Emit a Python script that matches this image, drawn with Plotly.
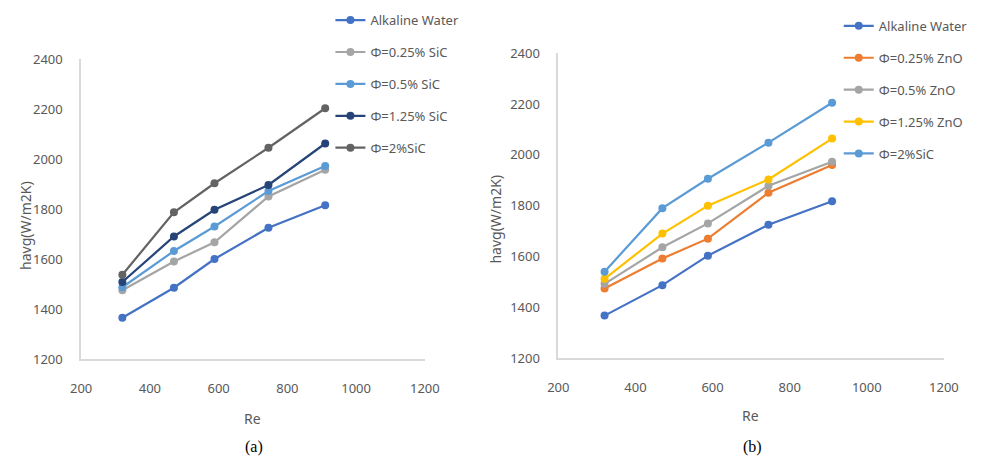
import plotly.graph_objects as go

# Reynolds numbers tested
re_vals = [320, 470, 588, 745, 910]

# Panel (a): alkaline water and SiC nanofluids, havg in W/m2K
alk_a = [1365, 1485, 1600, 1725, 1815]
sic_025 = [1475, 1590, 1667, 1850, 1957]
sic_05 = [1487, 1632, 1730, 1872, 1972]
sic_125 = [1508, 1690, 1797, 1896, 2062]
sic_2 = [1537, 1787, 1903, 2045, 2203]

# Panel (b): alkaline water and ZnO nanofluids (plus 2% SiC)
alk_b = [1367, 1487, 1603, 1725, 1817]
zno_025 = [1474, 1592, 1670, 1851, 1960]
zno_05 = [1492, 1636, 1730, 1878, 1973]
zno_125 = [1512, 1690, 1800, 1903, 2064]
sic_2b = [1540, 1790, 1906, 2048, 2205]

names_a = ["Alkaline Water", "Φ=0.25% SiC", "Φ=0.5% SiC", "Φ=1.25% SiC", "Φ=2%SiC"]
names_b = ["Alkaline Water", "Φ=0.25% ZnO", "Φ=0.5% ZnO", "Φ=1.25% ZnO", "Φ=2%SiC"]
series_a = [alk_a, sic_025, sic_05, sic_125, sic_2]
series_b = [alk_b, zno_025, zno_05, zno_125, sic_2b]
colors_a = ["#4472C4", "#A5A5A5", "#5B9BD5", "#264478", "#636363"]
colors_b = ["#4472C4", "#ED7D31", "#A5A5A5", "#FFC000", "#5B9BD5"]

x_ticks = [200, 400, 600, 800, 1000, 1200]
y_ticks = [1200, 1400, 1600, 1800, 2000, 2200, 2400]

W, H = 993, 468
FONT = "Noto Sans"
TICK_COLOR = "#595959"

fig = go.Figure()

for i, (name, ys, col) in enumerate(zip(names_a, series_a, colors_a)):
    fig.add_trace(go.Scatter(
        x=re_vals, y=ys, name=name, mode="lines+markers",
        line=dict(color=col, width=2.2), marker=dict(color=col, size=8),
        xaxis="x", yaxis="y", legend="legend", legendgroup="a%d" % i,
    ))

for i, (name, ys, col) in enumerate(zip(names_b, series_b, colors_b)):
    fig.add_trace(go.Scatter(
        x=re_vals, y=ys, name=name, mode="lines+markers",
        line=dict(color=col, width=2.2), marker=dict(color=col, size=8),
        xaxis="x2", yaxis="y2", legend="legend2", legendgroup="b%d" % i,
    ))


def px_x(p):
    return p / W


def px_y(p):
    return 1 - p / H


axis_common = dict(
    showgrid=False, zeroline=False, showline=True, linecolor="#D9D9D9", linewidth=1.5,
    tickfont=dict(family=FONT, size=13, color=TICK_COLOR),
    ticks="outside", tickcolor="rgba(0,0,0,0)",
)

legend_font = dict(family=FONT, size=13, color=TICK_COLOR)

fig.update_layout(
    width=W, height=H,
    margin=dict(l=0, r=0, t=0, b=0),
    paper_bgcolor="white", plot_bgcolor="white",
    showlegend=True,
    xaxis=dict(axis_common, domain=[px_x(72), px_x(425)], range=[200, 1200],
               tickvals=x_ticks, ticklen=17, anchor="y"),
    yaxis=dict(axis_common, domain=[px_y(364), px_y(52)], range=[1200, 2400],
               tickvals=y_ticks, ticklen=14, anchor="x"),
    xaxis2=dict(axis_common, domain=[px_x(562), px_x(958)], range=[200, 1200],
                tickvals=x_ticks, ticklen=17, anchor="y2"),
    yaxis2=dict(axis_common, domain=[px_y(363), px_y(46)], range=[1200, 2400],
                tickvals=y_ticks, ticklen=14, anchor="x2"),
    legend=dict(x=px_x(328), y=px_y(-4), xanchor="left", yanchor="top",
                font=legend_font, tracegroupgap=12, itemwidth=30,
                bgcolor="rgba(0,0,0,0)"),
    legend2=dict(x=px_x(850), y=px_y(2), xanchor="left", yanchor="top",
                 font=legend_font, tracegroupgap=12, itemwidth=30,
                 bgcolor="rgba(0,0,0,0)"),
)

label_font = dict(family=FONT, size=14, color=TICK_COLOR)
panel_font = dict(family="Liberation Serif", size=16, color="black")
annotations = [
    dict(text="Re", x=px_x(248), y=px_y(426), font=label_font),
    dict(text="Re", x=px_x(759), y=px_y(423), font=label_font),
    dict(text="havg(W/m2K)", x=px_x(15), y=px_y(225), textangle=-90, font=label_font),
    dict(text="havg(W/m2K)", x=px_x(498), y=px_y(218), textangle=-90, font=label_font),
    dict(text="(a)", x=px_x(250), y=px_y(455), font=panel_font),
    dict(text="(b)", x=px_x(761), y=px_y(455), font=panel_font),
]
for a in annotations:
    a.update(xref="paper", yref="paper", showarrow=False, xanchor="center", yanchor="middle")
fig.update_layout(annotations=annotations)

fig.write_html("out.html")
